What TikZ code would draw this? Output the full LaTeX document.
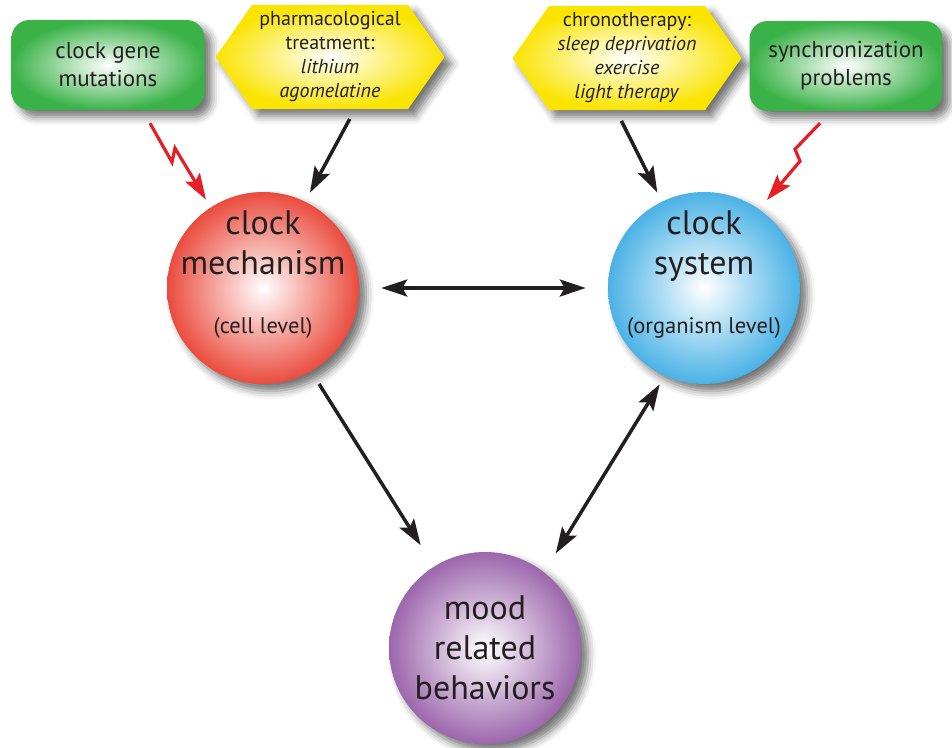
\documentclass[tikz,border=0pt]{standalone}
\usepackage{fontspec}
\setmainfont{PT Sans}
\usepackage{tikz}
\usetikzlibrary{
  arrows.meta,
  shapes.symbols,
  shadows.blur
}
\definecolor{clockred}{RGB}{234,76,62}
\definecolor{clockblue}{RGB}{74,178,230}
\definecolor{clockpurple}{RGB}{156,102,172}
\definecolor{clockgreen}{RGB}{58,178,72}
\definecolor{clockyellow}{RGB}{250,228,0}
\definecolor{clockink}{RGB}{35,31,32}
\definecolor{clockbolt}{RGB}{230,30,37}
\tikzset{
  clockShadow/.style={
    blur shadow={
      shadow xshift=7pt,
      shadow yshift=-7pt,
      shadow blur radius=8pt,
      shadow opacity=55
    }
  },
  clockBall/.style={
    circle,
    minimum size=192pt,
    inner sep=0pt,
    shading=radial,
    inner color=white,
    outer color=#1,
    clockShadow,
    align=center,
    text=clockink,
    font=\fontsize{34}{40}\selectfont
  },
  ballText/.style={
    align=center,
    text=clockink,
    font=\fontsize{34}{40}\selectfont
  },
  causeBox/.style={
    rectangle,
    rounded corners=18pt,
    minimum width=193pt,
    minimum height=90pt,
    shading=radial,
    inner color=white,
    outer color=clockgreen,
    clockShadow,
    align=center,
    text=clockink,
    font=\fontsize{23}{28}\selectfont
  },
  therapySign/.style={
    signal,
    signal to=west and east,
    signal pointer angle=110,
    minimum width=229pt,
    minimum height=104pt,
    inner sep=1pt,
    shading=radial,
    inner color=white,
    outer color=clockyellow,
    clockShadow,
    align=center,
    text=clockink,
    font=\fontsize{20}{24}\selectfont
  },
  clockArrow/.style={
    -{Stealth[length=26pt,width=17pt,inset=5pt]},
    line width=3.5pt,
    draw=clockink
  },
  clockBoth/.style={
    {Stealth[length=26pt,width=17pt,inset=5pt]}-{Stealth[length=26pt,width=17pt,inset=5pt]},
    line width=3.5pt,
    draw=clockink
  },
  boltArrow/.style={
    -{Stealth[length=26pt,width=17pt,inset=5pt]},
    line width=3.2pt,
    line join=miter,
    draw=clockbolt
  }
}

\begin{document}
\begin{tikzpicture}[x=1pt, y=-1pt]
  \useasboundingbox (0,0) rectangle (952,747);

  % top row
  \node[causeBox] (mutations) at (108,65) {clock gene\\mutations};
  \node[therapySign] (pharma) at (330,57)
    {pharmacological\\treatment:\\\textit{lithium}\\\textit{agomelatine}};
  \node[therapySign] (chrono) at (627,58)
    {chronotherapy:\\\textit{sleep deprivation}\\\textit{exercise}\\\textit{light therapy}};
  \node[causeBox] (synchro) at (846,66) {synchronization\\problems};

  % the three balls
  \node[clockBall=clockred] (mechanism) at (263,288) {};
  \node[ballText] (mechanismText) at (263,275)
    {clock\\mechanism\\[19pt]{\fontsize{22.5}{26}\selectfont (cell level)}};

  \node[clockBall=clockblue] (system) at (704,288) {};
  \node[ballText] (systemText) at (704,275)
    {clock\\system\\[19pt]{\fontsize{22.5}{26}\selectfont (organism level)}};

  \node[clockBall=clockpurple] (mood) at (485,648) {mood\\related\\behaviors};

  % lightning bolts
  \coordinate (boltLeft) at ([xshift=42pt,yshift=-13pt]mutations.south);
  \coordinate (boltRight) at ([xshift=-26pt,yshift=-12pt]synchro.south);
  \draw[boltArrow, shorten >=9pt] (boltLeft) -- ++(22,39) -- ++(3,-14) -- (mechanism.123);
  \draw[boltArrow, shorten >=12pt] (boltRight) -- ++(-25,26) -- ++(5,12) -- (system.55);

  % treatments
  \draw[clockArrow, shorten <=11pt, shorten >=10pt]
    ([xshift=25pt]pharma.south) -- (mechanism.64);
  \draw[clockArrow, shorten <=12pt, shorten >=10pt]
    ([xshift=-11pt]chrono.south) -- (system.116);

  % links between levels
  \draw[clockBoth, shorten <=22pt, shorten >=22pt] (mechanism.east) -- (system.west);
  \draw[clockArrow, shorten <=15pt, shorten >=25pt] (mechanism.-60) -- (mood.122);
  \draw[clockBoth, shorten <=22pt, shorten >=10pt] (mood.52) -- (system.246);
\end{tikzpicture}
\end{document}
